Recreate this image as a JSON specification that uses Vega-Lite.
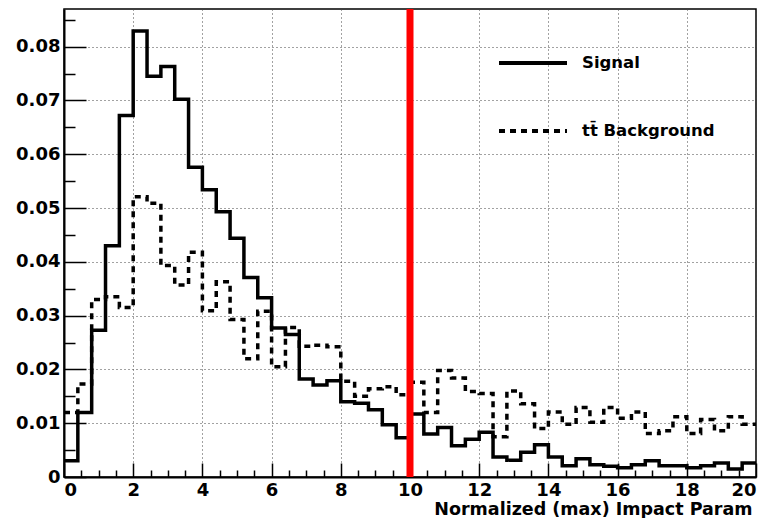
{
  "$schema": "https://vega.github.io/schema/vega-lite/v6.json",
  "width": 692,
  "height": 468,
  "autosize": {"type": "none"},
  "padding": {"left": 64, "top": 9, "right": 23, "bottom": 41},
  "background": "white",
  "config": {
    "view": {"stroke": "#000", "strokeWidth": 1.5},
    "font": "DejaVu Sans"
  },
  "datasets": {
    "hist": [
      {"series": "Signal", "x": 0.0, "v": 0.003},
      {"series": "Signal", "x": 0.4, "v": 0.012},
      {"series": "Signal", "x": 0.8, "v": 0.0273},
      {"series": "Signal", "x": 1.2, "v": 0.043},
      {"series": "Signal", "x": 1.6, "v": 0.0672},
      {"series": "Signal", "x": 2.0, "v": 0.0829},
      {"series": "Signal", "x": 2.4, "v": 0.0745},
      {"series": "Signal", "x": 2.8, "v": 0.0763},
      {"series": "Signal", "x": 3.2, "v": 0.0702},
      {"series": "Signal", "x": 3.6, "v": 0.0576},
      {"series": "Signal", "x": 4.0, "v": 0.0534},
      {"series": "Signal", "x": 4.4, "v": 0.0493},
      {"series": "Signal", "x": 4.8, "v": 0.0444},
      {"series": "Signal", "x": 5.2, "v": 0.0371},
      {"series": "Signal", "x": 5.6, "v": 0.0333},
      {"series": "Signal", "x": 6.0, "v": 0.0277},
      {"series": "Signal", "x": 6.4, "v": 0.0265},
      {"series": "Signal", "x": 6.8, "v": 0.0182},
      {"series": "Signal", "x": 7.2, "v": 0.0171},
      {"series": "Signal", "x": 7.6, "v": 0.0179},
      {"series": "Signal", "x": 8.0, "v": 0.014},
      {"series": "Signal", "x": 8.4, "v": 0.0137},
      {"series": "Signal", "x": 8.8, "v": 0.0125},
      {"series": "Signal", "x": 9.2, "v": 0.0097},
      {"series": "Signal", "x": 9.6, "v": 0.0073},
      {"series": "Signal", "x": 10.0, "v": 0.0117},
      {"series": "Signal", "x": 10.4, "v": 0.008},
      {"series": "Signal", "x": 10.8, "v": 0.0092},
      {"series": "Signal", "x": 11.2, "v": 0.0058},
      {"series": "Signal", "x": 11.6, "v": 0.007},
      {"series": "Signal", "x": 12.0, "v": 0.0083},
      {"series": "Signal", "x": 12.4, "v": 0.0037},
      {"series": "Signal", "x": 12.8, "v": 0.0031},
      {"series": "Signal", "x": 13.2, "v": 0.0046},
      {"series": "Signal", "x": 13.6, "v": 0.006},
      {"series": "Signal", "x": 14.0, "v": 0.0037},
      {"series": "Signal", "x": 14.4, "v": 0.0021},
      {"series": "Signal", "x": 14.8, "v": 0.0034},
      {"series": "Signal", "x": 15.2, "v": 0.0023},
      {"series": "Signal", "x": 15.6, "v": 0.002},
      {"series": "Signal", "x": 16.0, "v": 0.0017},
      {"series": "Signal", "x": 16.4, "v": 0.0023},
      {"series": "Signal", "x": 16.8, "v": 0.003},
      {"series": "Signal", "x": 17.2, "v": 0.0021},
      {"series": "Signal", "x": 17.6, "v": 0.0021},
      {"series": "Signal", "x": 18.0, "v": 0.0017},
      {"series": "Signal", "x": 18.4, "v": 0.0021},
      {"series": "Signal", "x": 18.8, "v": 0.0026},
      {"series": "Signal", "x": 19.2, "v": 0.0015},
      {"series": "Signal", "x": 19.6, "v": 0.0026},
      {"series": "Signal", "x": 20.0, "v": 0.0026},
      {"series": "tt\u0304 Background", "x": 0.0, "v": 0.012},
      {"series": "tt\u0304 Background", "x": 0.4, "v": 0.0173},
      {"series": "tt\u0304 Background", "x": 0.8, "v": 0.033},
      {"series": "tt\u0304 Background", "x": 1.2, "v": 0.0335},
      {"series": "tt\u0304 Background", "x": 1.6, "v": 0.0315},
      {"series": "tt\u0304 Background", "x": 2.0, "v": 0.0521},
      {"series": "tt\u0304 Background", "x": 2.4, "v": 0.0509},
      {"series": "tt\u0304 Background", "x": 2.8, "v": 0.0393},
      {"series": "tt\u0304 Background", "x": 3.2, "v": 0.0357},
      {"series": "tt\u0304 Background", "x": 3.6, "v": 0.0418},
      {"series": "tt\u0304 Background", "x": 4.0, "v": 0.0309},
      {"series": "tt\u0304 Background", "x": 4.4, "v": 0.0363},
      {"series": "tt\u0304 Background", "x": 4.8, "v": 0.0293},
      {"series": "tt\u0304 Background", "x": 5.2, "v": 0.022},
      {"series": "tt\u0304 Background", "x": 5.6, "v": 0.0308},
      {"series": "tt\u0304 Background", "x": 6.0, "v": 0.0205},
      {"series": "tt\u0304 Background", "x": 6.4, "v": 0.0278},
      {"series": "tt\u0304 Background", "x": 6.8, "v": 0.0243},
      {"series": "tt\u0304 Background", "x": 7.2, "v": 0.0245},
      {"series": "tt\u0304 Background", "x": 7.6, "v": 0.0242},
      {"series": "tt\u0304 Background", "x": 8.0, "v": 0.0178},
      {"series": "tt\u0304 Background", "x": 8.4, "v": 0.015},
      {"series": "tt\u0304 Background", "x": 8.8, "v": 0.0164},
      {"series": "tt\u0304 Background", "x": 9.2, "v": 0.0168},
      {"series": "tt\u0304 Background", "x": 9.6, "v": 0.0153},
      {"series": "tt\u0304 Background", "x": 10.0, "v": 0.0176},
      {"series": "tt\u0304 Background", "x": 10.4, "v": 0.012},
      {"series": "tt\u0304 Background", "x": 10.8, "v": 0.0198},
      {"series": "tt\u0304 Background", "x": 11.2, "v": 0.0184},
      {"series": "tt\u0304 Background", "x": 11.6, "v": 0.0159},
      {"series": "tt\u0304 Background", "x": 12.0, "v": 0.0155},
      {"series": "tt\u0304 Background", "x": 12.4, "v": 0.0075},
      {"series": "tt\u0304 Background", "x": 12.8, "v": 0.016},
      {"series": "tt\u0304 Background", "x": 13.2, "v": 0.0136},
      {"series": "tt\u0304 Background", "x": 13.6, "v": 0.009},
      {"series": "tt\u0304 Background", "x": 14.0, "v": 0.0121},
      {"series": "tt\u0304 Background", "x": 14.4, "v": 0.0098},
      {"series": "tt\u0304 Background", "x": 14.8, "v": 0.0129},
      {"series": "tt\u0304 Background", "x": 15.2, "v": 0.0102},
      {"series": "tt\u0304 Background", "x": 15.6, "v": 0.0129},
      {"series": "tt\u0304 Background", "x": 16.0, "v": 0.0109},
      {"series": "tt\u0304 Background", "x": 16.4, "v": 0.0121},
      {"series": "tt\u0304 Background", "x": 16.8, "v": 0.0081},
      {"series": "tt\u0304 Background", "x": 17.2, "v": 0.0086},
      {"series": "tt\u0304 Background", "x": 17.6, "v": 0.0112},
      {"series": "tt\u0304 Background", "x": 18.0, "v": 0.0081},
      {"series": "tt\u0304 Background", "x": 18.4, "v": 0.0107},
      {"series": "tt\u0304 Background", "x": 18.8, "v": 0.0086},
      {"series": "tt\u0304 Background", "x": 19.2, "v": 0.0112},
      {"series": "tt\u0304 Background", "x": 19.6, "v": 0.0098},
      {"series": "tt\u0304 Background", "x": 20.0, "v": 0.0098}
    ],
    "cut": [{"cut": 10}]
  },
  "resolve": {"axis": {"x": "independent", "y": "independent"}},
  "layer": [
    {
      "data": {"name": "hist"},
      "mark": {"type": "line", "opacity": 0},
      "encoding": {
        "x": {
          "field": "x", "type": "quantitative",
          "scale": {"domain": [0, 20], "nice": false, "zero": false},
          "axis": {
            "orient": "bottom", "values": [0.5,1,1.5,2.5,3,3.5,4.5,5,5.5,6.5,7,7.5,8.5,9,9.5,10.5,11,11.5,12.5,13,13.5,14.5,15,15.5,16.5,17,17.5,18.5,19,19.5],
            "labels": false, "domain": false, "grid": false, "title": null,
            "tickSize": -7, "tickColor": "#000", "tickWidth": 1.5
          }
        },
        "y": {
          "field": "v", "type": "quantitative",
          "scale": {"domain": [0, 0.087], "nice": false},
          "axis": {
            "orient": "left", "values": [0.005,0.015,0.025,0.035,0.045,0.055,0.065,0.075,0.085],
            "labels": false, "domain": false, "grid": false, "title": null,
            "tickSize": -11, "tickColor": "#000", "tickWidth": 1.5
          }
        }
      }
    },
    {
      "data": {"name": "hist"},
      "mark": {"type": "line", "interpolate": "step-after", "strokeWidth": 3.5, "color": "#000"},
      "encoding": {
        "x": {
          "field": "x", "type": "quantitative",
          "axis": {
            "orient": "bottom", "values": [0,2,4,6,8,10,12,14,16,18,20], "format": "d",
            "grid": true, "gridDash": [1, 3], "gridColor": "#444", "gridWidth": 1,
            "tickSize": -14, "tickColor": "#000", "tickWidth": 1.5,
            "domainColor": "#000", "domainWidth": 2,
            "labelFont": "DejaVu Sans", "labelFontWeight": "bold", "labelFontSize": 18, "labelColor": "#000",
            "labelPadding": 18,
            "title": "Normalized (max) Impact Param",
            "titleFont": "DejaVu Sans", "titleFontWeight": "bold", "titleFontSize": 17.5, "titleColor": "#000",
            "titleAnchor": "end", "titleX": 688, "titleAlign": "right", "titlePadding": 1
          }
        },
        "y": {
          "field": "v", "type": "quantitative",
          "axis": {
            "orient": "left", "values": [0,0.01,0.02,0.03,0.04,0.05,0.06,0.07,0.08], "format": ".2~f",
            "grid": true, "gridDash": [1, 3], "gridColor": "#444", "gridWidth": 1,
            "tickSize": -22, "tickColor": "#000", "tickWidth": 1.5,
            "domainColor": "#000", "domainWidth": 2,
            "labelFont": "DejaVu Sans", "labelFontWeight": "bold", "labelFontSize": 18, "labelColor": "#000",
            "labelPadding": 26, "title": null
          }
        },
        "strokeDash": {
          "field": "series", "type": "nominal",
          "scale": {"domain": ["Signal", "tt\u0304 Background"], "range": [[1, 0], [6, 5]]},
          "legend": {
            "orient": "none", "legendX": 433, "legendY": 18, "title": null,
            "symbolType": "stroke", "symbolSize": 4624, "symbolStrokeWidth": 4, "symbolStrokeColor": "#000",
            "labelFont": "DejaVu Sans", "labelFontWeight": "bold", "labelFontSize": 16.5, "labelColor": "#000", "labelOffset": 13,
            "rowPadding": 23, "padding": 0
          }
        },
        "detail": {"field": "series"}
      }
    },
    {
      "data": {"name": "cut"},
      "mark": {"type": "rule", "color": "#ff0000", "strokeWidth": 7},
      "encoding": {"x": {"field": "cut", "type": "quantitative", "axis": null}}
    }
  ]
}
